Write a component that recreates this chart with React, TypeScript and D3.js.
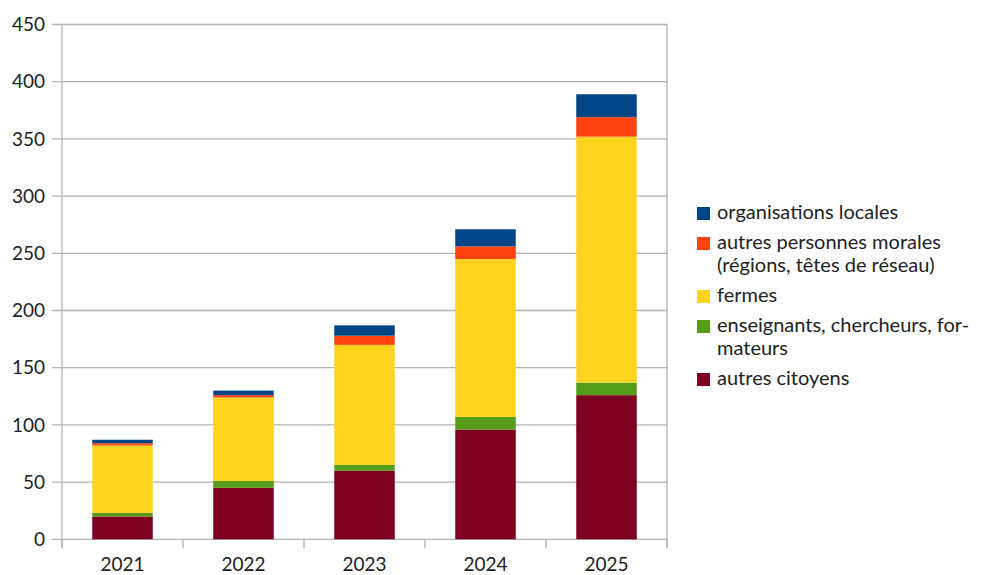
import React from "react";
import * as d3 from "d3";

const years = ["2021", "2022", "2023", "2024", "2025"];
const seriesNames = [
  "autres citoyens",
  "enseignants, chercheurs, formateurs",
  "fermes",
  "autres personnes morales (régions, têtes de réseau)",
  "organisations locales",
];
const autresCitoyens = [20, 45, 60, 96, 126];
const enseignants = [3, 6, 5, 11, 11];
const fermes = [59, 73, 105, 138, 215];
const autresPersonnes = [2, 2, 8, 11, 17];
const organisations = [3, 4, 9, 15, 20];
const colors = ["#7E0021", "#579D1C", "#FFD320", "#FF420E", "#004586"];
const yTicks = [0, 50, 100, 150, 200, 250, 300, 350, 400, 450];

const legendItems = [
  { lines: ["organisations locales"], color: colors[4] },
  { lines: ["autres personnes morales", "(régions, têtes de réseau)"], color: colors[3] },
  { lines: ["fermes"], color: colors[2] },
  { lines: ["enseignants, chercheurs, for-", "mateurs"], color: colors[1] },
  { lines: ["autres citoyens"], color: colors[0] },
];

export default function App() {
  const W = 989, H = 575;
  const left = 62, right = 667, top = 24.5, bottom = 539.3;
  const font = "Lato, 'Open Sans', sans-serif";
  const x = d3.scaleBand<string>().domain(years).range([left, right]).paddingInner(0.5).paddingOuter(0.25);
  const xb = d3.scaleBand<string>().domain(years).range([left, right]);
  const y = d3.scaleLinear().domain([0, 450]).range([bottom, top]);
  const data = years.map((yr, i) => ({
    year: yr,
    s0: autresCitoyens[i],
    s1: enseignants[i],
    s2: fermes[i],
    s3: autresPersonnes[i],
    s4: organisations[i],
  }));
  const stack = d3.stack<any>().keys(["s0", "s1", "s2", "s3", "s4"])(data);
  const grid = "#b3b3b3";
  const boundaries = years.map((yr) => xb(yr)!).concat([right]);

  let ly = 212;
  const legend = legendItems.map((it, i) => {
    const startY = ly;
    ly += it.lines.length * 23 + 7;
    return (
      <g key={i}>
        <rect x={697} y={startY - 5} width={13} height={13} fill={it.color} />
        {it.lines.map((l, j) => (
          <text key={j} x={717} y={startY + j * 23} dy="0.35em" fontSize={20} fill="#222" fontFamily={font}>
            {l}
          </text>
        ))}
      </g>
    );
  });

  return (
    <svg width={W} height={H} style={{ position: "absolute", left: 0, top: 0, background: "#fff" }}>
      {yTicks.map((t) => (
        <g key={t}>
          <line x1={52} x2={right} y1={y(t)} y2={y(t)} stroke={grid} strokeWidth={1.3} />
          <text x={45} y={y(t)} dy="0.35em" textAnchor="end" fontSize={19} fill="#222" fontFamily={font}>
            {t}
          </text>
        </g>
      ))}
      <line x1={left} x2={left} y1={top} y2={bottom + 9} stroke={grid} strokeWidth={1.3} />
      <line x1={right} x2={right} y1={top} y2={bottom + 9} stroke={grid} strokeWidth={1.3} />
      {boundaries.map((b, i) => (
        <line key={i} x1={b} x2={b} y1={bottom} y2={bottom + 9} stroke={grid} strokeWidth={1.3} />
      ))}
      {stack.map((layer, si) =>
        layer.map((d, i) => (
          <rect
            key={si + "-" + i}
            x={x(years[i])!}
            width={x.bandwidth()}
            y={y(d[1])}
            height={y(d[0]) - y(d[1])}
            fill={colors[si]}
          />
        ))
      )}
      {years.map((yr) => (
        <text key={yr} x={xb(yr)! + xb.bandwidth() / 2} y={571} textAnchor="middle" fontSize={19} fill="#222" fontFamily={font}>
          {yr}
        </text>
      ))}
      {legend}
    </svg>
  );
}
